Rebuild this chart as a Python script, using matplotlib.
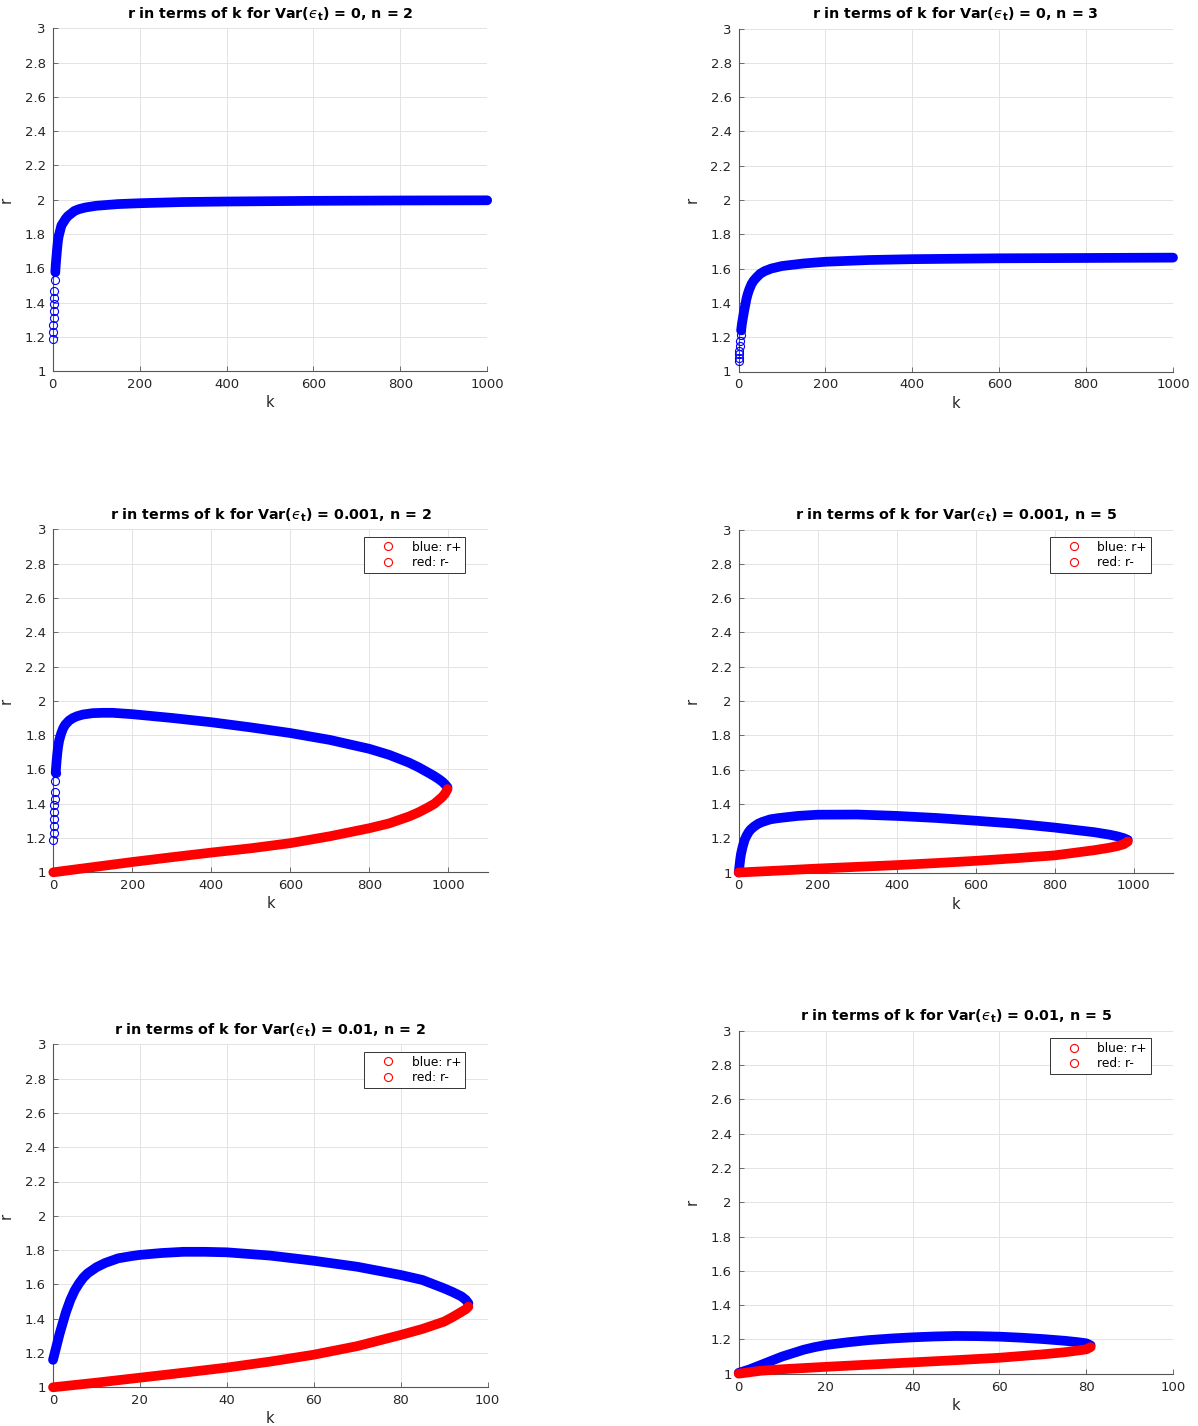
import numpy as np
import matplotlib
matplotlib.use('Agg')
import matplotlib.pyplot as plt
from matplotlib.lines import Line2D
from matplotlib.ticker import FormatStrFormatter, MultipleLocator

# ---- data ----
# Var = 0, n = 2
k_a_plus = [0.5, 1, 1.5, 2, 2.5, 3, 3.5, 4, 5, 6, 7, 8, 9, 10, 12, 14, 17, 20, 25, 30, 35,
            40, 50, 60, 75, 100, 125, 150, 200, 300, 400, 600, 800, 1000]
r_a_plus = [1.19, 1.23, 1.27, 1.31, 1.35, 1.39, 1.43, 1.47, 1.53, 1.58, 1.62, 1.65, 1.68,
            1.71, 1.76, 1.79, 1.82, 1.85, 1.87, 1.89, 1.905, 1.915, 1.935, 1.945, 1.955,
            1.965, 1.97, 1.975, 1.98, 1.987, 1.99, 1.994, 1.996, 1.997]

# Var = 0, n = 3
k_b_plus = [0.5, 1, 1.5, 2, 3, 4, 5, 6, 8, 10, 12, 15, 18, 21, 25, 30, 35, 42, 50, 60, 75,
            100, 150, 200, 300, 400, 600, 800, 1000]
r_b_plus = [1.06, 1.08, 1.10, 1.12, 1.15, 1.18, 1.21, 1.24, 1.28, 1.31, 1.34, 1.38, 1.42,
            1.45, 1.48, 1.51, 1.53, 1.55, 1.57, 1.585, 1.60, 1.615, 1.63, 1.64, 1.65, 1.655,
            1.66, 1.662, 1.664]

# Var = 0.001, n = 2
k_c_plus = [0.5, 1, 1.5, 2, 2.5, 3, 3.5, 4, 5, 6, 8, 10, 12, 15, 20, 25, 30, 40, 50, 60, 75,
            100, 125, 150, 200, 300, 400, 500, 600, 700, 800, 850, 900, 925, 950, 965, 975,
            985, 992, 998]
r_c_plus = [1.19, 1.23, 1.27, 1.31, 1.35, 1.39, 1.43, 1.47, 1.53, 1.58, 1.64, 1.69, 1.73,
            1.77, 1.81, 1.84, 1.86, 1.885, 1.90, 1.91, 1.92, 1.928, 1.93, 1.93, 1.922, 1.90,
            1.875, 1.845, 1.812, 1.772, 1.72, 1.685, 1.64, 1.612, 1.58, 1.56, 1.545, 1.528,
            1.512, 1.495]
k_c_minus = [0, 100, 200, 300, 400, 500, 600, 700, 800, 850, 900, 925, 950, 965, 975, 985,
             992, 998]
r_c_minus = [1.0, 1.03, 1.06, 1.088, 1.115, 1.14, 1.17, 1.21, 1.257, 1.285, 1.325, 1.35,
             1.38, 1.40, 1.42, 1.44, 1.46, 1.485]

# Var = 0.001, n = 5
k_d_plus = [0, 2, 4, 6, 8, 10, 15, 20, 25, 30, 40, 50, 60, 80, 100, 150, 200, 300, 400, 500,
            600, 700, 800, 900, 940, 960, 975, 985]
r_d_plus = [1.0, 1.04, 1.08, 1.11, 1.13, 1.15, 1.19, 1.215, 1.235, 1.25, 1.27, 1.285, 1.295,
            1.31, 1.317, 1.33, 1.337, 1.338, 1.33, 1.318, 1.302, 1.285, 1.262, 1.235, 1.22,
            1.21, 1.20, 1.19]
k_d_minus = [0, 100, 200, 300, 400, 500, 600, 700, 800, 900, 940, 960, 975, 985]
r_d_minus = [1.0, 1.011, 1.023, 1.033, 1.043, 1.055, 1.068, 1.083, 1.10, 1.13, 1.145, 1.155,
             1.165, 1.18]

# Var = 0.01, n = 2
k_e_plus = [0, 0.5, 1, 1.5, 2, 3, 4, 5, 6, 7, 8, 10, 12, 15, 18, 20, 25, 30, 35, 40, 50, 60,
            70, 80, 85, 90, 92, 94, 95, 95.6]
r_e_plus = [1.16, 1.21, 1.26, 1.31, 1.354, 1.44, 1.51, 1.565, 1.606, 1.64, 1.665, 1.70,
            1.725, 1.752, 1.765, 1.772, 1.783, 1.79, 1.79, 1.787, 1.768, 1.738, 1.703, 1.655,
            1.626, 1.577, 1.555, 1.53, 1.51, 1.49]
k_e_minus = [0, 10, 20, 30, 40, 50, 60, 70, 80, 85, 90, 92, 94, 95, 95.6]
r_e_minus = [1.0, 1.027, 1.056, 1.085, 1.115, 1.15, 1.19, 1.24, 1.305, 1.34, 1.383, 1.41,
             1.44, 1.455, 1.47]

# Var = 0.01, n = 5
k_f_plus = [0, 2.5, 5, 7.5, 10, 12.5, 15, 17.5, 20, 25, 30, 35, 40, 45, 50, 55, 60, 65, 70,
            75, 78, 80, 81]
r_f_plus = [1.005, 1.025, 1.05, 1.075, 1.10, 1.12, 1.14, 1.155, 1.167, 1.183, 1.196, 1.205,
            1.212, 1.217, 1.22, 1.219, 1.216, 1.21, 1.202, 1.192, 1.184, 1.177, 1.165]
k_f_minus = [0, 5, 10, 20, 30, 40, 50, 60, 70, 75, 78, 80, 81]
r_f_minus = [1.0, 1.017, 1.026, 1.04, 1.053, 1.066, 1.079, 1.093, 1.113, 1.125, 1.135,
             1.142, 1.155]

W, H = 1198, 1426
fig = plt.figure(figsize=(W / 100, H / 100), dpi=100)

TXT = (0.15, 0.15, 0.15)


def rect(left, top, w=434.5, h=343.0):
    return [left / W, 1 - (top + h) / H, w / W, h / H]


def draw_branch(ax, k, r, color, n_open=0):
    k = np.asarray(k, float)
    r = np.asarray(r, float)
    start = 0
    if n_open:
        # sparse start of the curve: separate open circles
        ax.plot(k[:n_open], r[:n_open], 'o', color=color, mfc='none', ms=5.8, mew=0.8,
                zorder=3, clip_on=False)
        start = n_open - 1
    ax.plot(k[start:], r[start:], '-', color=color, lw=7.0, solid_capstyle='round',
            solid_joinstyle='round', zorder=3, clip_on=False)


def style(ax, title, xmax, xstep):
    ax.set_xlim(0, xmax)
    ax.set_ylim(1, 3)
    ax.xaxis.set_major_locator(MultipleLocator(xstep))
    ax.yaxis.set_major_locator(MultipleLocator(0.2))
    ax.yaxis.set_major_formatter(FormatStrFormatter('%g'))
    ax.xaxis.set_major_formatter(FormatStrFormatter('%g'))
    if xmax == 1100:
        ax.set_xticks([0, 200, 400, 600, 800, 1000])
    for s in ['top', 'right']:
        ax.spines[s].set_visible(False)
    for s in ['left', 'bottom']:
        ax.spines[s].set_color('#555555')
        ax.spines[s].set_linewidth(0.8)
    ax.tick_params(direction='in', length=3.5, width=0.6, colors='#555555',
                   labelcolor=TXT, labelsize=9.5, pad=5)
    ax.grid(True, color='#e3e3e3', linewidth=0.7)
    ax.set_axisbelow(True)
    ax.set_xlabel('k', fontsize=10.5, color=TXT, labelpad=3)
    ax.set_ylabel('r', fontsize=10.5, color=TXT, labelpad=8)
    ax.set_title(title, fontsize=10.3, fontweight='bold', pad=7)


def add_legend(ax):
    handles = [Line2D([], [], ls='none', marker='o', color='red', mfc='none', ms=5.8, mew=0.8)
               for _ in range(2)]
    leg = ax.legend(handles, ['blue: r+', 'red: r-'], loc='upper right',
                    bbox_to_anchor=(0.948, 0.978), fontsize=8.8, fancybox=False,
                    framealpha=1, edgecolor='#333333', handlelength=3.3,
                    handletextpad=0.3, borderpad=0.3, labelspacing=0.2,
                    borderaxespad=0)
    leg.get_frame().set_linewidth(0.7)


ttl = 'r in terms of k for Var($\u03f5_\\mathbf{t}$) = %s, n = %d'

ax1 = fig.add_axes(rect(52.7, 28.3))
draw_branch(ax1, k_a_plus, r_a_plus, 'blue', n_open=10)
style(ax1, ttl % ('0', 2), 1000, 200)

ax2 = fig.add_axes(rect(738.5, 28.5))
draw_branch(ax2, k_b_plus, r_b_plus, 'blue', n_open=8)
style(ax2, ttl % ('0', 3), 1000, 200)

ax3 = fig.add_axes(rect(53.3, 529.3))
draw_branch(ax3, k_c_plus, r_c_plus, 'blue', n_open=10)
draw_branch(ax3, k_c_minus, r_c_minus, 'red')
style(ax3, ttl % ('0.001', 2), 1100, 200)
add_legend(ax3)

ax4 = fig.add_axes(rect(738.7, 529.5))
draw_branch(ax4, k_d_plus, r_d_plus, 'blue')
draw_branch(ax4, k_d_minus, r_d_minus, 'red')
style(ax4, ttl % ('0.001', 5), 1100, 200)
add_legend(ax4)

ax5 = fig.add_axes(rect(53, 1044.3))
draw_branch(ax5, k_e_plus, r_e_plus, 'blue')
draw_branch(ax5, k_e_minus, r_e_minus, 'red')
style(ax5, ttl % ('0.01', 2), 100, 20)
add_legend(ax5)

ax6 = fig.add_axes(rect(738.7, 1030.7))
draw_branch(ax6, k_f_plus, r_f_plus, 'blue')
draw_branch(ax6, k_f_minus, r_f_minus, 'red')
style(ax6, ttl % ('0.01', 5), 100, 20)
add_legend(ax6)

fig.savefig('out.png', dpi=100, facecolor='white')
